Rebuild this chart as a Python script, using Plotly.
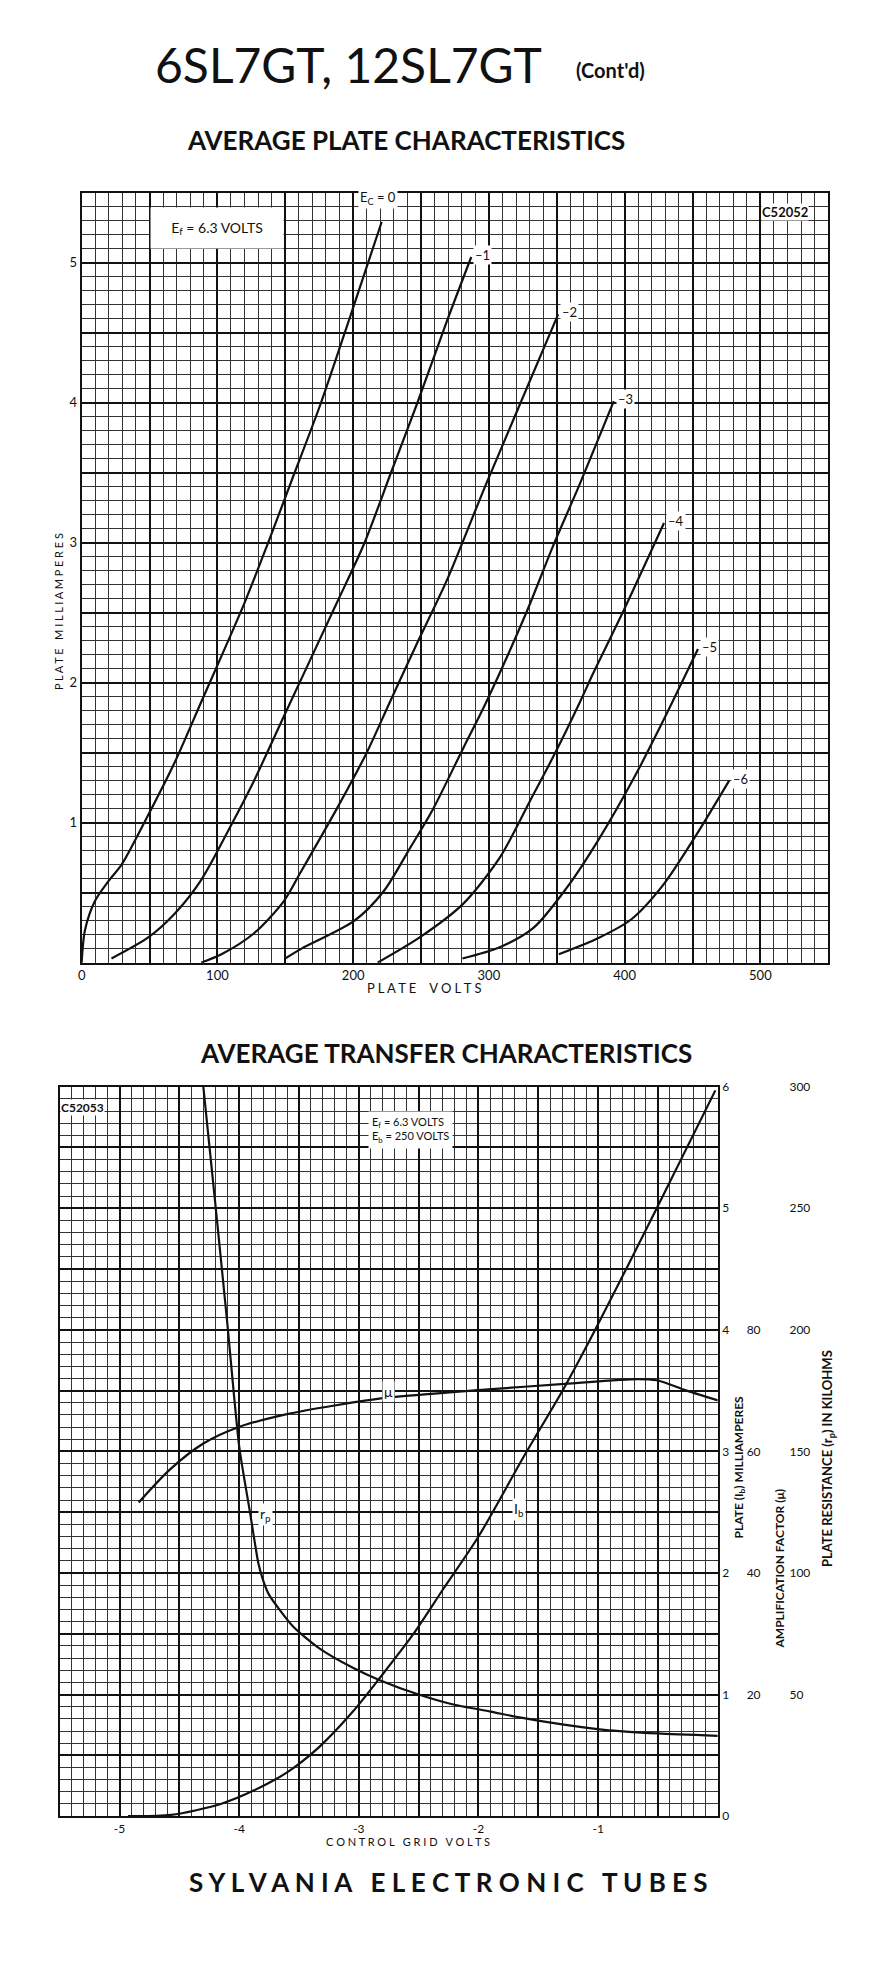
"""Sylvania 6SL7GT / 12SL7GT data sheet page: plate and transfer characteristics."""
import plotly.graph_objects as go

W, H = 886, 1968
FONT = "Lato"
INK = "#111111"

# ── Plate characteristics (plate volts -> plate mA), one list pair per grid bias ──
EC0_V = [0, 2.4, 9.8, 19.6, 29.4, 47.7, 68.5, 88, 120, 137, 156.5, 176, 198, 221]
EC0_MA = [0, 0.23, 0.44, 0.58, 0.70, 1.03, 1.43, 1.86, 2.57, 2.99, 3.49, 3.99, 4.62, 5.29]
EC1_V = [22, 49, 68.5, 88, 110, 127, 149, 188, 208, 227.5, 247, 269, 287]
EC1_MA = [0.03, 0.18, 0.35, 0.59, 0.98, 1.30, 1.76, 2.57, 2.99, 3.49, 3.99, 4.58, 5.04]
EC2_V = [88, 103, 127, 149, 161, 188, 210, 227, 247, 269, 298, 351]
EC2_MA = [0.0, 0.06, 0.21, 0.44, 0.64, 1.10, 1.50, 1.86, 2.28, 2.73, 3.42, 4.63]
EC3_V = [150, 162, 201, 222.5, 242, 259, 281, 298, 328, 347, 367, 392]
EC3_MA = [0.03, 0.10, 0.30, 0.51, 0.82, 1.10, 1.53, 1.86, 2.51, 2.97, 3.42, 4.01]
EC4_V = [218, 249, 281, 308, 330, 350, 367, 377, 399, 429]
EC4_MA = [0.0, 0.18, 0.42, 0.75, 1.15, 1.52, 1.86, 2.07, 2.51, 3.14]
EC5_V = [280.5, 308, 333, 357, 381.5, 408, 428, 454]
EC5_MA = [0.03, 0.11, 0.25, 0.53, 0.89, 1.34, 1.72, 2.24]
EC6_V = [351.5, 381.5, 405, 428, 452, 477]
EC6_MA = [0.06, 0.18, 0.31, 0.55, 0.90, 1.30]

PLATE_CURVES = [
    (EC0_V, EC0_MA, "E<sub>C</sub> = 0"),
    (EC1_V, EC1_MA, "–1"),
    (EC2_V, EC2_MA, "–2"),
    (EC3_V, EC3_MA, "–3"),
    (EC4_V, EC4_MA, "–4"),
    (EC5_V, EC5_MA, "–5"),
    (EC6_V, EC6_MA, "–6"),
]

PLATE_X_TICKS = [0, 50, 100, 150, 200, 250, 300, 350, 400, 450, 500, 550]
PLATE_X_TEXT = ["0", "", "100", "", "200", "", "300", "", "400", "", "500", ""]
PLATE_Y_TICKS = [0, 0.5, 1, 1.5, 2, 2.5, 3, 3.5, 4, 4.5, 5, 5.5]
PLATE_Y_TEXT = ["", "", "1", "", "2", "", "3", "", "4", "", "5", ""]

# ── Transfer characteristics (grid volts, Eb = 250 V) ──
IB_GRID_V = [-4.93, -4.57, -4.155, -3.88, -3.60, -3.33, -3.05, -2.83, -2.55, -2.30,
             -2.0, -1.62, -1.28, -1.03, -0.51, -0.02]
IB_MA = [0.0, 0.01, 0.10, 0.21, 0.36, 0.57, 0.86, 1.13, 1.49, 1.86,
         2.30, 2.96, 3.53, 3.99, 5.00, 5.97]
MU_GRID_V = [-4.84, -4.58, -4.30, -4.02, -3.61, -3.19, -2.78, -1.92, -1.28, -0.67,
             -0.51, -0.26, 0.0]
MU = [51.6, 57.0, 61.3, 63.9, 66.1, 67.6, 68.8, 70.2, 71.1, 71.9, 71.7, 70.0, 68.4]
RP_GRID_V = [-4.30, -4.20, -4.10, -4.0, -3.91, -3.84, -3.80, -3.75, -3.55,
             -3.33, -3.05, -2.83, -2.50, -2.22, -1.90, -1.645, -1.30, -0.95, -0.5, 0.0]
RP_KOHM = [300, 252, 203, 152, 125, 104, 97, 91, 78,
           69, 61, 56, 50, 46, 43, 40.5, 37.7, 35.5, 34, 33]

GRID_X_TICKS = [-5.5, -5, -4.5, -4, -3.5, -3, -2.5, -2, -1.5, -1, -0.5, 0]
GRID_X_TEXT = ["", "-5", "", "-4", "", "-3", "", "-2", "", "-1", "", ""]
IB_TICKS = [0, 0.5, 1, 1.5, 2, 2.5, 3, 3.5, 4, 4.5, 5, 5.5, 6]
IB_TEXT = ["0", "", "1", "", "2", "", "3", "", "4", "", "5", "", "6"]
MU_TICKS = [20, 40, 60, 80]
RP_TICKS = [50, 100, 150, 200, 250, 300]


def px(x):
    return x / W


def py(y):
    return 1 - y / H


def grid_axis(**kw):
    """Graph-paper axis: bold major lines, thin minor lines, boxed frame."""
    base = dict(
        showgrid=True, gridcolor=INK, gridwidth=2,
        showline=True, mirror=True, linecolor=INK, linewidth=2,
        zeroline=False, ticks="", fixedrange=True, tickmode="array",
        tickfont=dict(family=FONT, size=13, color=INK),
    )
    base.update(kw)
    return base


def label(text, x, y, size=13, **kw):
    d = dict(text=text, x=x, y=y, xref="paper", yref="paper", showarrow=False,
             xanchor="center", yanchor="middle",
             font=dict(family=FONT, size=size, color=INK))
    d.update(kw)
    return d


def note(text, x, y, xref, yref, size=13, **kw):
    d = dict(text=text, x=x, y=y, xref=xref, yref=yref, showarrow=False,
             xanchor="center", yanchor="middle", bgcolor="white",
             font=dict(family=FONT, size=size, color=INK))
    d.update(kw)
    return d


def curve(x, y, xa, ya, smoothing=0.8):
    return go.Scatter(
        x=x, y=y, mode="lines", xaxis=xa, yaxis=ya,
        line=dict(color=INK, width=2.2, shape="spline", smoothing=smoothing),
        hoverinfo="skip", showlegend=False,
    )


fig = go.Figure()
for vs, ma, _ in PLATE_CURVES:
    fig.add_trace(curve(vs, ma, "x", "y"))
fig.add_trace(curve(IB_GRID_V, IB_MA, "x2", "y2"))
fig.add_trace(curve(MU_GRID_V, MU, "x2", "y3"))
fig.add_trace(curve(RP_GRID_V, RP_KOHM, "x2", "y4", smoothing=0.6))

top_dom_y = [py(962), py(186)]
bot_dom_y = [py(1822), py(1087)]
minor_style = dict(showgrid=True, gridcolor="#333333", gridwidth=1, ticks="")
small_font = dict(family=FONT, size=12, color=INK)

fig.update_layout(
    width=W, height=H,
    margin=dict(l=0, r=0, t=0, b=0),
    paper_bgcolor="white", plot_bgcolor="white",
    showlegend=False,
    xaxis=grid_axis(
        domain=[px(78), px(828)], range=[0, 550], anchor="y",
        tickvals=PLATE_X_TICKS, ticktext=PLATE_X_TEXT,
        minor=dict(dtick=10, tick0=0, **minor_style),
    ),
    yaxis=grid_axis(
        domain=top_dom_y, range=[0, 5.5], anchor="x",
        tickvals=PLATE_Y_TICKS, ticktext=PLATE_Y_TEXT,
        minor=dict(dtick=0.1, tick0=0, **minor_style),
    ),
    xaxis2=grid_axis(
        domain=[px(56), px(717)], range=[-5.5, 0], anchor="y2",
        tickvals=GRID_X_TICKS, ticktext=GRID_X_TEXT, tickfont=small_font,
        minor=dict(dtick=0.1, tick0=0, **minor_style),
    ),
    yaxis2=grid_axis(
        domain=bot_dom_y, range=[0, 6], anchor="x2", side="right",
        tickvals=IB_TICKS, ticktext=IB_TEXT, tickfont=small_font,
        minor=dict(dtick=0.1, tick0=0, **minor_style),
    ),
    yaxis3=dict(
        domain=bot_dom_y, range=[0, 120], overlaying="y2", side="right",
        anchor="free", position=px(745), showgrid=False, zeroline=False,
        showline=False, ticks="", fixedrange=True,
        tickmode="array", tickvals=MU_TICKS, tickfont=small_font,
    ),
    yaxis4=dict(
        domain=bot_dom_y, range=[0, 300], overlaying="y2", side="right",
        anchor="free", position=px(788), showgrid=False, zeroline=False,
        showline=False, ticks="", fixedrange=True,
        tickmode="array", tickvals=RP_TICKS, tickfont=small_font,
    ),
)

ann = [
    # page titles
    label("6SL7GT, 12SL7GT", px(150), py(57), size=48, xanchor="left"),
    label("<b>(Cont'd)</b>", px(609), py(62), size=20),
    label("<b>AVERAGE PLATE CHARACTERISTICS</b>", px(404), py(133), size=26),
    label("<b>AVERAGE TRANSFER CHARACTERISTICS</b>", px(444), py(1053), size=26),
    label("<b>S Y L V A N I A   E L E C T R O N I C   T U B E S</b>",
          px(447), py(1888), size=26),
    # top chart axis titles and notes
    label("P L A T E   M I L L I A M P E R E S", px(55), py(608), size=11,
          textangle=-90),
    label("P L A T E    V O L T S", px(422), py(988), size=13),
    note("E<sub>f</sub> = 6.3 VOLTS", 100, 5.25, "x", "y", size=14,
         width=128, height=36, borderpad=2),
    note("<b>C52052</b>", 518, 5.36, "x", "y", borderpad=0),
    # bottom chart titles and notes
    label("C O N T R O L   G R I D   V O L T S", px(406), py(1848), size=11),
    label("<b>PLATE (I<sub>b</sub>) MILLIAMPERES</b>", px(739), py(1470), size=12,
          textangle=-90),
    label("<b>AMPLIFICATION FACTOR (μ)</b>", px(779), py(1573), size=12,
          textangle=-90),
    label("<b>PLATE RESISTANCE (r<sub>p</sub>) IN KILOHMS</b>", px(828), py(1462),
          size=13, textangle=-90),
    note("<b>C52053</b>", -5.31, 5.83, "x2", "y2", size=12, borderpad=0),
    note("E<sub>f</sub> = 6.3 VOLTS<br>E<sub>b</sub> = 250 VOLTS", -2.57, 5.64,
         "x2", "y2", size=11, align="left", borderpad=3),
    note("μ", MU_GRID_V[6], MU[6], "x2", "y3", size=14, yshift=6, xshift=3),
    note("r<sub>p</sub>", -3.88, 124, "x2", "y4", size=14, xanchor="left", xshift=4),
    note("I<sub>b</sub>", -1.74, 2.52, "x2", "y2", size=14, xanchor="left", xshift=2),
]

# bias labels sit at the top end of each plate curve
for i, (vs, ma, name) in enumerate(PLATE_CURVES):
    if i == 0:
        ann.append(note(name, vs[-1], ma[-1], "x", "y", yshift=24, xshift=-4))
    else:
        ann.append(note(name, vs[-1], ma[-1], "x", "y", xanchor="left",
                        xshift=2, yshift=2))

fig.update_layout(annotations=ann)

fig.write_html(
    "out.html",
    config={"displayModeBar": False, "staticPlot": True},
    post_script="document.body.style.margin='0';document.body.style.overflow='hidden';",
)
